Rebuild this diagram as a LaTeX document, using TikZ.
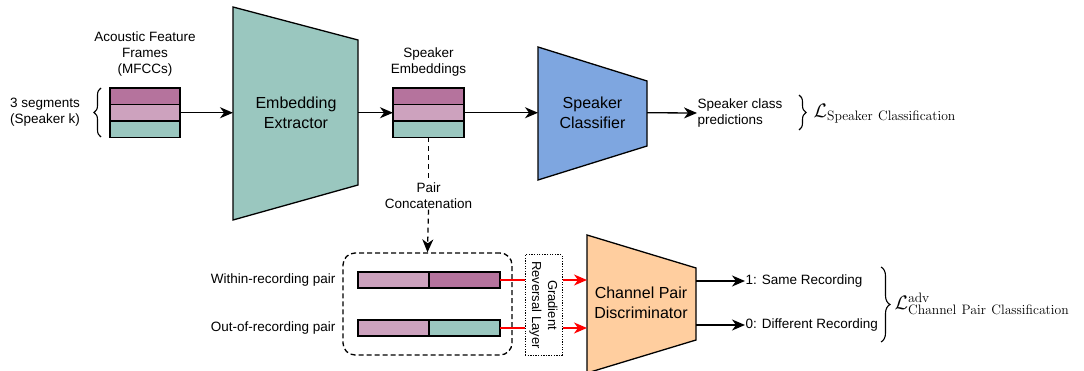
\RequirePackage{fix-cm}
\documentclass[tikz,border=0pt]{standalone}
\usepackage[no-math]{fontspec}
\setmainfont{Liberation Sans}
\usetikzlibrary{arrows.meta,decorations.pathreplacing,calc}
\definecolor{dpurp}{HTML}{B5739D}
\definecolor{lpink}{HTML}{CDA2BE}
\definecolor{tealc}{HTML}{9AC7BF}
\definecolor{bluec}{HTML}{7EA6E0}
\definecolor{peach}{HTML}{FFCE9F}
\definecolor{redc}{HTML}{FF0000}
\begin{document}
\begin{tikzpicture}[x=1pt,y=-1pt,
  line width=1.3pt,
  tip/.style={-{Stealth[length=13pt,width=11pt,inset=4pt]}},
  cell/.style={draw,line width=1.3pt,inner sep=0,outer sep=0,minimum width=70pt,minimum height=16.5pt},
  half/.style={draw,line width=1.3pt,inner sep=0,outer sep=0,minimum width=71pt,minimum height=16.5pt},
  lbl/.style={font=\fontsize{13.5}{16}\selectfont,align=center,inner sep=0},
  big/.style={font=\fontsize{16}{20}\selectfont,align=center,inner sep=0},
  brc/.style={decorate,decoration={brace,amplitude=7pt},line width=1.1pt},
  mathl/.style={font=\fontsize{19.5}{22}\selectfont,anchor=west,inner sep=0},
  trap/.style={draw,line width=1.3pt}
]
\useasboundingbox (0,0) rectangle (1084,371);

% ---------- input frames ----------
\node[lbl] (aff) at (145,54) {Acoustic Feature\\Frames\\(MFCCs)};
\node[cell,fill=dpurp] (a1) at (145,96.25) {};
\node[cell,fill=lpink] (a2) at (145,112.75) {};
\node[cell,fill=tealc] (a3) at (145,129.25) {};
\node[lbl] (seg) at (45,112.5) {3 segments\\(Speaker k)};
\coordinate (b1s) at (101,137);
\coordinate (b1e) at (101,88);
\draw[brc] (b1s) -- (b1e);

% ---------- embedding extractor ----------
\draw[trap,fill=tealc] (233,7) -- (358,40) -- (358,185) -- (233,220) -- cycle;
\node[big] (ee) at (296,113) {Embedding\\Extractor};
\coordinate (eeL) at (233,112.75);
\coordinate (eeR) at (358,112.75);
\draw[tip] (a2.east) -- (eeL);

% ---------- speaker embeddings ----------
\node[lbl] (seLbl) at (428.5,62) {Speaker\\Embeddings};
\node[half,fill=dpurp] (e1) at (428.5,96.25) {};
\node[half,fill=lpink] (e2) at (428.5,112.75) {};
\node[half,fill=tealc] (e3) at (428.5,129.25) {};
\draw[tip] (eeR) -- (e2.west);

% ---------- speaker classifier ----------
\draw[trap,fill=bluec] (538,47) -- (647,81) -- (647,146) -- (538,180) -- cycle;
\node[big] (sc) at (592.5,112.5) {Speaker\\Classifier};
\coordinate (scL) at (538,112.75);
\coordinate (scR) at (647,112.75);
\draw[tip] (e2.east) -- (scL);
\node[lbl,anchor=west,align=left] (scp) at (697,113) {Speaker class\\predictions};
\draw[tip] (scR) -- (scp.west);
\coordinate (b2s) at (799,95);
\coordinate (b2e) at (799,130);
\draw[brc] (b2s) -- (b2e);
\node[mathl] (ls) at (813,114) {$\mathcal{L}_{\mathrm{Speaker\ Classification}}$};

% ---------- pair concatenation ----------
\node[lbl] (pc) at (428.5,196) {Pair\\Concatenation};
\draw[dash pattern=on 5pt off 4pt] (e3.south) -- (pc.north);
\node[draw,rounded corners=12pt,dash pattern=on 5pt off 3pt,minimum width=169pt,minimum height=102pt,inner sep=0] (dbox) at (427.5,304) {};
\draw[dash pattern=on 5pt off 4pt,tip] (pc.south) -- (dbox.north);

\node[half,fill=lpink,minimum height=16pt] (w1) at (393.5,280) {};
\node[half,fill=dpurp,minimum height=16pt] (w2) at (464.5,280) {};
\node[half,fill=lpink,minimum height=16pt] (o1) at (393.5,328) {};
\node[half,fill=tealc,minimum height=16pt] (o2) at (464.5,328) {};
\node[lbl,anchor=east] (wl) at (336,280) {Within-recording pair};
\node[lbl,anchor=east] (ol) at (336,328) {Out-of-recording pair};

% ---------- gradient reversal layer ----------
\node[draw,dash pattern=on 1.3pt off 1.3pt,line width=1pt,minimum width=37pt,minimum height=100pt,inner sep=0] (grl) at (543.5,305) {};
\node[lbl,rotate=-90,font=\fontsize{13}{16}\selectfont] (grlt) at (grl.center) {Gradient\\Reversal Layer};

% ---------- channel pair discriminator ----------
\draw[trap,fill=peach] (587,235) -- (696,268) -- (696,340) -- (587,373) -- cycle;
\node[big] (cpd) at (641,302.5) {Channel Pair\\Discriminator};
\coordinate (cin1) at (587,280);
\coordinate (cin2) at (587,328);
\coordinate (cout1) at (696,281);
\coordinate (cout2) at (696,325);
\draw[redc] (w2.east) -- (grl.west |- w2.east);
\draw[redc] (o2.east) -- (grl.west |- o2.east);
\draw[redc,tip] (grl.east |- cin1) -- (cin1);
\draw[redc,tip] (grl.east |- cin2) -- (cin2);

\node[lbl,anchor=west] (same) at (745,281) {1: Same Recording};
\node[lbl,anchor=west] (diff) at (745,325) {0: Different Recording};
\draw[tip] (cout1) -- (same.west);
\draw[tip] (cout2) -- (diff.west);
\coordinate (b3s) at (881,267);
\coordinate (b3e) at (881,342);
\draw[brc,decoration={amplitude=9pt}] (b3s) -- (b3e);
\node[mathl] (lc) at (894,304) {$\mathcal{L}^{\mathrm{adv}}_{\mathrm{Channel\ Pair\ Classification}}$};
\end{tikzpicture}
\end{document}
